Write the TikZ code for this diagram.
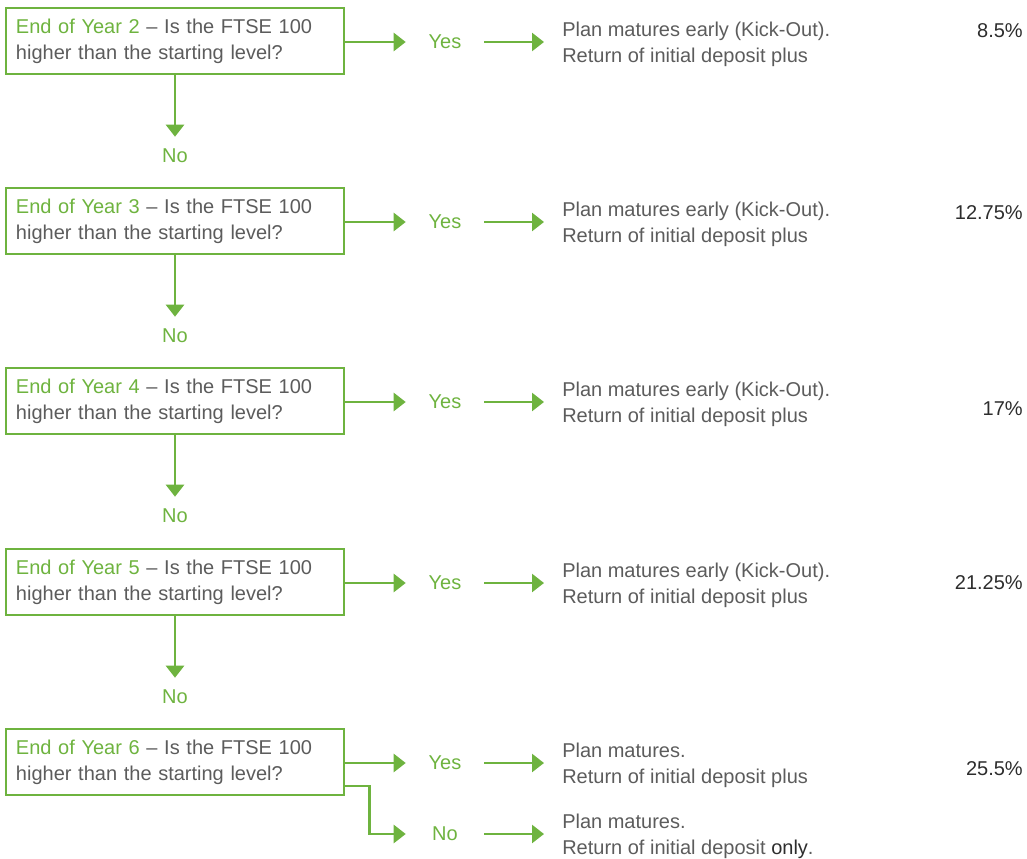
\documentclass[tikz,border=0pt]{standalone}
\usepackage{fontspec}
\setmainfont{Liberation Sans}
\usetikzlibrary{arrows.meta}
\definecolor{grn}{RGB}{110,179,63}
\definecolor{txt}{RGB}{92,92,92}
\definecolor{dark}{RGB}{45,45,45}
\begin{document}
\begin{tikzpicture}[x=0.75pt,y=-0.75pt,
  every node/.style={font=\fontsize{15}{19.5}\selectfont},
  qbox/.style={draw=grn, line width=1.9pt, text width=238.5pt, inner xsep=7.5pt, minimum height=49.5pt, align=left, text=txt},
  lbl/.style={text=grn, minimum width=58.5pt, minimum height=28.5pt, inner sep=0pt},
  res/.style={text=txt, align=left, anchor=west, inner xsep=13.5pt, inner ysep=0pt},
  pct/.style={text=dark, anchor=east, inner sep=0pt},
  arr/.style={draw=grn, line width=1.9pt, -{Triangle[length=9pt,width=13.5pt]}},
]
\useasboundingbox (0,0) rectangle (1027,859);
\newcommand{\qtext}[1]{\textcolor{grn}{End of Year #1} -- Is the FTSE 100\\higher than the starting level?}
\foreach \i/\t in {1/8,2/188,3/368,4/549,5/729}{
  \pgfmathtruncatemacro{\yr}{\i+1}
  \node[qbox] (box\i) at (175,\t+33) {\qtext{\yr}};
  \node[lbl] (yes\i) at (445,\t+34) {Yes};
  \draw[arr] (box\i.east |- yes\i.west) -- (yes\i.west);
}
\foreach \i/\t in {1/8,2/188,3/368,4/549}{
  \node[res] (res\i) at (544,\t+36) {Plan matures early (Kick-Out).\\Return of initial deposit plus};
  \draw[arr] (yes\i.east) -- (yes\i.east -| res\i.west);
  \node[lbl] (no\i) at (175,\t+148) {No};
  \draw[arr] (box\i.south) -- (no\i.north);
}
\node[res] (res5) at (544,765) {Plan matures.\\Return of initial deposit plus};
\draw[arr] (yes5.east) -- (yes5.east -| res5.west);
\node[lbl] (no5) at (445,834) {No};
\draw[arr] ([yshift=-18pt]box5.east) -- ++(24,0) |- (no5.west);
\node[res] (res6) at (544,836) {Plan matures.\\Return of initial deposit \textcolor{dark}{only}.};
\draw[arr] (no5.east) -- (no5.east -| res6.west);
\node[pct] (pct1) at (1023,31) {8.5\%};
\node[pct] (pct2) at (1023,213) {12.75\%};
\node[pct] (pct3) at (1023,409) {17\%};
\node[pct] (pct4) at (1023,583) {21.25\%};
\node[pct] (pct5) at (1023,769) {25.5\%};
\end{tikzpicture}
\end{document}
